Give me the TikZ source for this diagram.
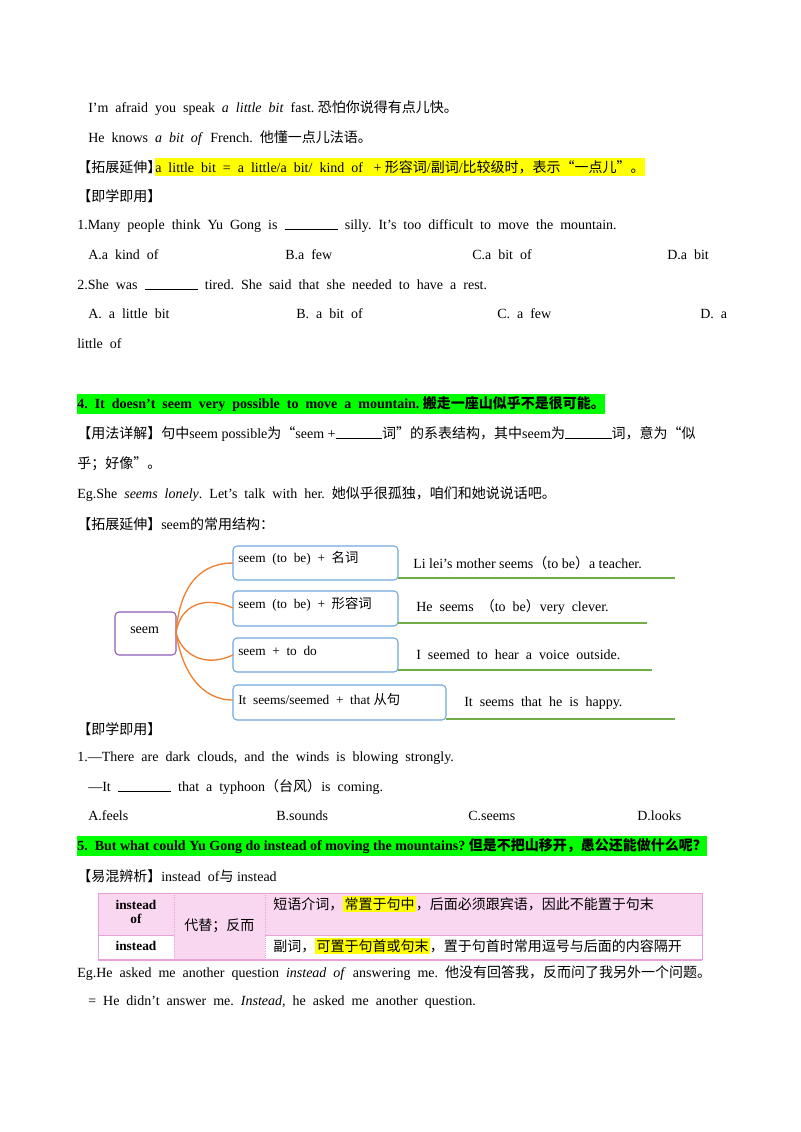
\documentclass[tikz,border=0pt]{standalone}
\usepackage{fontspec}
\setmainfont{Liberation Serif}
\newfontfamily\cjk{Noto Sans CJK SC}
\newcommand\zh[1]{{\cjk #1}}
\newcommand\blank[1]{\rule{#1}{0.4pt}}
\definecolor{hlY}{HTML}{FFFF00}
\definecolor{hlG}{HTML}{00FF00}
\definecolor{boxB}{HTML}{6FA8DC}
\definecolor{boxP}{HTML}{8E5BB8}
\definecolor{lnG}{HTML}{70AD47}
\definecolor{lnO}{HTML}{F08030}
\definecolor{pk}{HTML}{FAD7F0}
\definecolor{pkB}{HTML}{E8A0D8}
\newcommand\hl[1]{{\setlength{\fboxsep}{1pt}\colorbox{hlY}{#1}}}
\begin{document}
\begin{tikzpicture}[x=0.75pt,y=-0.75pt,
  t/.style={anchor=west,inner sep=0pt,font=\fontsize{10.5pt}{12pt}\selectfont},
  hy/.style={t,fill=hlY,inner ysep=2pt},
  hg/.style={t,fill=hlG,inner ysep=2pt,font=\fontsize{10.5pt}{12pt}\selectfont\bfseries},
  mb/.style={draw=boxB,rounded corners=3pt,line width=0.8pt},
  gl/.style={draw=lnG,line width=1pt},
  oc/.style={draw=lnO,line width=1pt},
  bt/.style={t,font=\fontsize{10pt}{12pt}\selectfont},
  tb/.style={draw=pkB,line width=0.6pt}]
\useasboundingbox (0,0) rectangle (800,1132);
\node[t] (l1) at (88,108) {I'm\ \ afraid\ \ you\ \ speak\ \ \textit{a\ \ little\ \ bit}\ \ fast.\ \zh{恐怕你说得有点儿快。}};
\node[t] (l2) at (88,138) {He\ \ knows\ \ \textit{a\ \ bit\ \ of}\ \ French.\ \ \zh{他懂一点儿法语。}};
\node[t] (l3a) at (77,167) {\zh{【拓展延伸】}};
\node[hy] (l3b) at (155,167) {a\ \ little\ \ bit\ \ =\ \ a\ \ little/a\ \ bit/\ \ kind\ \ of\ \ \ +\ \zh{形容词}/\zh{副词}/\zh{比较级时，表示“一点儿”。}};
\node[t] (l4) at (77,196) {\zh{【即学即用】}};
\node[t] (l5) at (77,226) {1.Many\ \ people\ \ think\ \ Yu\ \ Gong\ \ is\ \ \blank{40pt}\ \ silly.\ \ It's\ \ too\ \ difficult\ \ to\ \ move\ \ the\ \ mountain.};
\node[t] (o1a) at (88,255) {A.a\ \ kind\ \ of};
\node[t] (o1b) at (285,255) {B.a\ \ few};
\node[t] (o1c) at (472,255) {C.a\ \ bit\ \ of};
\node[t] (o1d) at (667,255) {D.a\ \ bit};
\node[t] (l6) at (77,285) {2.She\ \ was\ \ \blank{40pt}\ \ tired.\ \ She\ \ said\ \ that\ \ she\ \ needed\ \ to\ \ have\ \ a\ \ rest.};
\node[t] (o2a) at (88,314) {A.\ \ a\ \ little\ \ bit};
\node[t] (o2b) at (296,314) {B.\ \ a\ \ bit\ \ of};
\node[t] (o2c) at (497,314) {C.\ \ a\ \ few};
\node[t] (o2d) at (700,314) {D.\ \ a};
\node[t] (l7) at (77,344) {little\ \ of};
\node[hg] (h4) at (77,404) {4.\ \ It\ \ doesn't\ \ seem\ \ very\ \ possible\ \ to\ \ move\ \ a\ \ mountain.\ \zh{搬走一座山似乎不是很可能。}};
\node[t] (l8) at (77,434) {\zh{【用法详解】句中}seem possible\zh{为“}seem +\blank{35pt}\zh{词”的系表结构，其中}seem\zh{为}\blank{35pt}\zh{词，意为“似}};
\node[t] (l9) at (77,464) {\zh{乎；好像”。}};
\node[t] (l10) at (77,494) {Eg.She\ \ \textit{seems\ \ lonely}.\ \ Let's\ \ talk\ \ with\ \ her.\ \ \zh{她似乎很孤独，咱们和她说说话吧。}};
\node[t] (l11) at (77,524) {\zh{【拓展延伸】}seem\zh{的常用结构：}};
% mind map
\draw[draw=boxP,rounded corners=3pt,line width=0.8pt] (115,612) rectangle (176,655);
\node[t] (seem) at (130,630) {seem};
\coordinate (sr) at (176,633);
\draw[mb] (233,546) rectangle (398,580);
\draw[mb] (233,591) rectangle (398,626);
\draw[mb] (233,638) rectangle (398,672);
\draw[mb] (233,685) rectangle (446,720);
\node[bt] (b1) at (238,558) {seem\ \ (to\ \ be)\ \ +\ \ \zh{名词}};
\node[bt] (b2) at (238,604) {seem\ \ (to\ \ be)\ \ +\ \ \zh{形容词}};
\node[bt] (b3) at (238,651) {seem\ \ +\ \ to\ \ do};
\node[bt] (b4) at (238,699) {It\ \ seems/seemed\ \ +\ \ that\ \zh{从句}};
\coordinate (c1) at (233,563);
\coordinate (c2) at (233,608);
\coordinate (c3) at (233,655);
\coordinate (c4) at (233,700);
\draw[oc] (sr) .. controls (180,580) and (205,563) .. (c1);
\draw[oc] (sr) .. controls (180,605) and (205,595) .. (c2);
\draw[oc] (sr) .. controls (182,655) and (205,668) .. (c3);
\draw[oc] (sr) .. controls (182,670) and (200,700) .. (c4);
\draw[gl] (398,578) -- (675,578);
\draw[gl] (398,623) -- (647,623);
\draw[gl] (398,670) -- (652,670);
\draw[gl] (446,719) -- (675,719);
\node[t] (e1) at (413,563) {Li lei's mother seems\zh{（}to be\zh{）}a teacher.};
\node[t] (e2) at (416,607) {He\ \ seems\ \ \zh{（}to\ \ be\zh{）}very\ \ clever.};
\node[t] (e3) at (416,655) {I\ \ seemed\ \ to\ \ hear\ \ a\ \ voice\ \ outside.};
\node[t] (e4) at (464,703) {It\ \ seems\ \ that\ \ he\ \ is\ \ happy.};
\node[t] (l12) at (77,729) {\zh{【即学即用】}};
\node[t] (l13) at (77,758) {1.—There\ \ are\ \ dark\ \ clouds,\ \ and\ \ the\ \ winds\ \ is\ \ blowing\ \ strongly.};
\node[t] (l14) at (88,787) {—It\ \ \blank{40pt}\ \ that\ \ a\ \ typhoon\zh{（台风）}is\ \ coming.};
\node[t] (o3a) at (88,816) {A.feels};
\node[t] (o3b) at (276,816) {B.sounds};
\node[t] (o3c) at (468,816) {C.seems};
\node[t] (o3d) at (637,816) {D.looks};
\node[hg] (h5) at (77,846) {5.\ \ But what could Yu Gong do instead of moving the mountains?\ \zh{但是不把山移开，愚公还能做什么呢？}};
\node[t] (l15) at (77,876) {\zh{【易混辨析】}instead\ \ of\zh{与} instead};
% table
\fill[pk] (98,893) rectangle (702,935);
\fill[pk] (174,935) rectangle (265,960);
\draw[tb] (98,893) -- (702,893);
\draw[tb] (98,935) -- (174,935);
\draw[tb] (265,935) -- (702,935);
\draw[tb,line width=1.2pt] (98,960) -- (702,960);
\draw[tb] (98,893) -- (98,960);
\draw[tb,densely dotted] (174,893) -- (174,960);
\draw[tb,densely dotted] (265,893) -- (265,960);
\draw[tb] (702,893) -- (702,960);
\node[font=\fontsize{10pt}{11pt}\selectfont\bfseries,align=center,inner sep=0pt] (k1) at (136,912) {instead\\of};
\node[font=\fontsize{10pt}{11pt}\selectfont\bfseries,inner sep=0pt] (k2) at (136,946) {instead};
\node[t] (m) at (184,926) {\zh{代替；反而}};
\node[t] (d1) at (273,904) {\zh{短语介词，}\hl{\zh{常置于句中}}\zh{，后面必须跟宾语，因此不能置于句末}};
\node[t] (d2) at (273,946) {\zh{副词，}\hl{\zh{可置于句首或句末}}\zh{，置于句首时常用逗号与后面的内容隔开}};
\node[t] (l16) at (77,973) {Eg.He\ \ asked\ \ me\ \ another\ \ question\ \ \textit{instead\ \ of}\ \ answering\ \ me.\ \ \zh{他没有回答我，反而问了我另外一个问题。}};
\node[t] (l17) at (88,1002) {=\ \ He\ \ didn't\ \ answer\ \ me.\ \ \textit{Instead},\ \ he\ \ asked\ \ me\ \ another\ \ question.};
\end{tikzpicture}
\end{document}
